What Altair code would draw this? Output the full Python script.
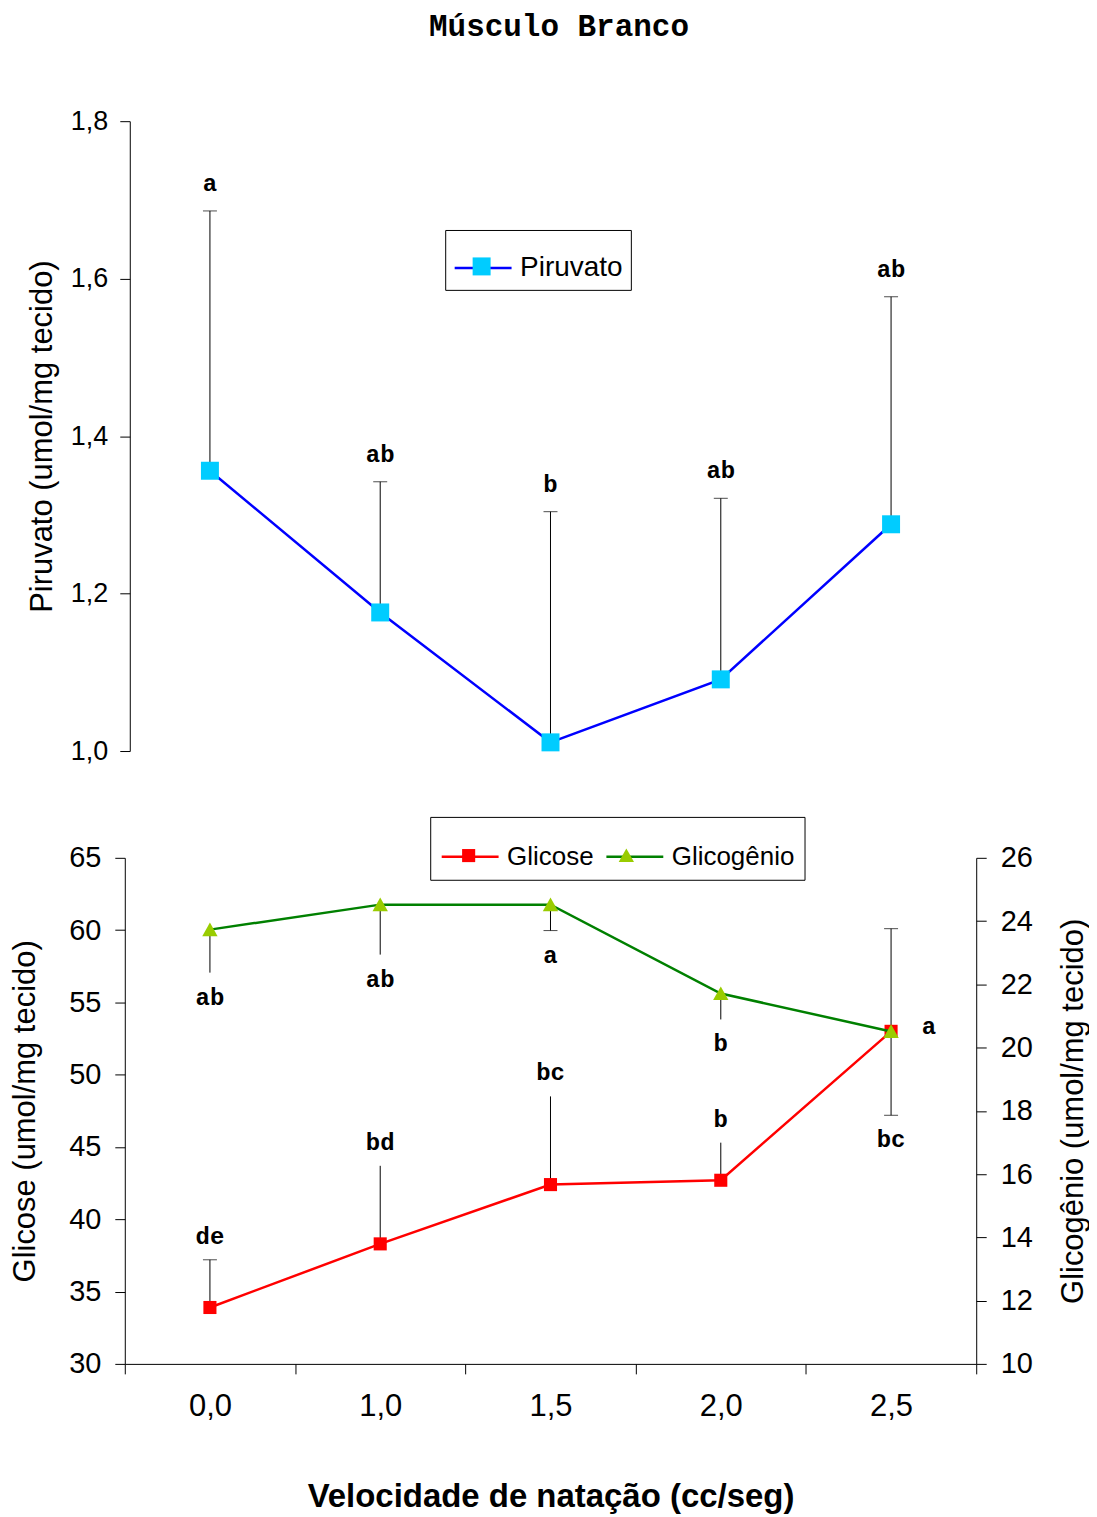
import altair as alt
import pandas as pd

# ---------------- dados ----------------
velocidades = ["0,0", "1,0", "1,5", "2,0", "2,5"]

piruvato = [1.356, 1.176, 1.011, 1.091, 1.288]
piruvato_erro = [1.686, 1.342, 1.304, 1.321, 1.577]
piruvato_letras = ["a", "ab", "b", "ab", "ab"]

glicose = [33.9, 38.3, 42.4, 42.7, 53.0]
glicose_erro = [37.2, 43.7, 48.5, 45.3, 60.1]
glicose_letras = ["de", "bd", "bc", "b", "a"]
glicose_letra_lado = ["acima", "acima", "acima", "acima", "direita"]
glicose_traco = [True, False, False, False, True]

glicogenio = [23.73, 24.52, 24.52, 21.71, 20.51]
glicogenio_erro = [22.37, 22.94, 23.70, 20.89, 17.86]
glicogenio_letras = ["ab", "ab", "a", "b", "bc"]
glicogenio_traco = [False, False, True, False, True]

ticks_piruvato = [1.0, 1.2, 1.4, 1.6, 1.8]
ticks_glicose = [30, 35, 40, 45, 50, 55, 60, 65]
ticks_glicogenio = [10, 12, 14, 16, 18, 20, 22, 24, 26]

series_base = ["Glicose", "Glicogênio"]
cor_linha = {"Piruvato": "#0000FF", "Glicose": "#FF0000", "Glicogênio": "#008000"}
cor_marcador = {"Piruvato": "#00CCFF", "Glicose": "#FF0000", "Glicogênio": "#99CC00"}
# marker shapes (unit = half of the legend line length)
forma = {
    "Piruvato": "M-0.316,-0.316H0.316V0.316H-0.316Z",
    "Glicose": "M-0.23,-0.23H0.23V0.23H-0.23Z",
    "Glicogênio": "M0,-0.25L0.27,0.23L-0.27,0.23Z",
}
TAM = 3249  # symbol size: legend line length squared

SANS = "Liberation Sans"
MONO = "Liberation Mono"


def tabela(valores, erros, letras, nome, **extra):
    d = pd.DataFrame({"vel": velocidades, "valor": valores, "erro": erros,
                      "letra": letras, **extra})
    d["serie"] = nome
    d["linha"] = nome
    return d


df_pir = tabela(piruvato, piruvato_erro, piruvato_letras, "Piruvato")
df_gli = tabela(glicose, glicose_erro, glicose_letras, "Glicose",
                lado=glicose_letra_lado, traco=glicose_traco)
df_glg = tabela(glicogenio, glicogenio_erro, glicogenio_letras, "Glicogênio",
                traco=glicogenio_traco)

escala_x = alt.Scale(type="band", paddingInner=0, paddingOuter=0)


def eixo_y(**kw):
    base = dict(grid=False, tickSize=10, labelPadding=12, labelFont=SANS,
                labelColor="black", titleFont=SANS, titleFontWeight="normal",
                titleColor="black", domainColor="black", tickColor="black")
    base.update(kw)
    return alt.Axis(**base)


def legenda(lx, ly, fonte, pad, visivel, valores=None):
    kw = dict(orient="none", legendX=lx, legendY=ly, title=None,
              direction="horizontal", symbolSize=TAM, labelFont=SANS,
              labelFontSize=fonte, labelColor="black", labelOffset=7,
              padding=pad, columnPadding=7)
    if visivel:
        kw.update(symbolType="stroke", symbolStrokeWidth=2.5, strokeColor="black")
    else:
        kw.update(labelOpacity=0, symbolStrokeWidth=0, zindex=1)
    if valores:
        kw["values"] = valores
    return alt.Legend(**kw)


texto = dict(font=MONO, fontWeight="bold", fontSize=24, color="black")

# ---------------- painel superior: Piruvato ----------------
x_topo = alt.X("vel:N", sort=velocidades, scale=escala_x, axis=None)
esc_pir = alt.Scale(domain=[1.0, 1.8], nice=False, zero=False)
eixo_pir = eixo_y(values=ticks_piruvato,
                  labelExpr="replace(format(datum.value, '.1f'), '.', ',')",
                  title="Piruvato (umol/mg tecido)", titleFontSize=31,
                  titlePadding=12, labelFontSize=27, offset=-5)


def y_pir(c):
    return alt.Y(f"{c}:Q", scale=esc_pir, axis=eixo_pir)


leg_l_topo = legenda(321, 109, 28, 8, True)
leg_p_topo = legenda(321, 109, 28, 8, False)

bt = alt.Chart(df_pir).encode(x=x_topo)
topo = alt.layer(
    bt.mark_rule(color="black", strokeWidth=1).encode(y=y_pir("valor"), y2="erro:Q"),
    bt.mark_tick(color="black", thickness=1, size=14).encode(y=y_pir("erro")),
    bt.mark_line(strokeWidth=2.5).encode(
        y=y_pir("valor"),
        stroke=alt.Stroke("linha:N", scale=alt.Scale(range=[cor_linha["Piruvato"]]),
                          legend=leg_l_topo)),
    bt.mark_point(filled=True, opacity=1, size=TAM, strokeWidth=0).encode(
        y=y_pir("valor"),
        fill=alt.Fill("serie:N", scale=alt.Scale(range=[cor_marcador["Piruvato"]]),
                      legend=leg_p_topo),
        shape=alt.Shape("serie:N", scale=alt.Scale(range=[forma["Piruvato"]]),
                        legend=leg_p_topo)),
    bt.mark_text(baseline="alphabetic", dy=-20, **texto).encode(
        y=y_pir("erro"), text="letra:N"),
).properties(width=853, height=631)

# ---------------- painel inferior: Glicose e Glicogênio ----------------
x_base = alt.X("vel:N", sort=velocidades, scale=escala_x,
               axis=alt.Axis(title="Velocidade de natação (cc/seg)", titleFont=SANS,
                             titleFontSize=33, titleFontWeight="bold",
                             titleColor="black", titlePadding=59, labelAngle=0,
                             labelFont=SANS, labelFontSize=31, labelColor="black",
                             labelPadding=18, tickSize=10, tickBand="extent",
                             domainColor="black", tickColor="black", grid=False))

esc_gli = alt.Scale(domain=[30, 65], nice=False, zero=False)
eixo_gli = eixo_y(orient="left", values=ticks_glicose,
                  title="Glicose (umol/mg tecido)", titleFontSize=31,
                  titlePadding=27, labelFontSize=29, labelPadding=14)
esc_glg = alt.Scale(domain=[10, 26], nice=False, zero=False)
eixo_glg = eixo_y(orient="right", values=ticks_glicogenio,
                  title="Glicogênio (umol/mg tecido)", titleFontSize=31,
                  titlePadding=26, titleAngle=270, titleBaseline="top",
                  labelFontSize=29, labelPadding=14)

ordem_alfa = sorted(series_base)
leg_l_base = legenda(306, -41, 26, 10, True, series_base)
leg_p_base = legenda(306, -41, 26, 10, False, series_base)
stroke_enc = alt.Stroke("linha:N",
                        scale=alt.Scale(domain=series_base,
                                        range=[cor_linha[s] for s in series_base]),
                        legend=leg_l_base)
fill_enc = alt.Fill("serie:N",
                    scale=alt.Scale(range=[cor_marcador[s] for s in ordem_alfa]),
                    legend=leg_p_base)
shape_enc = alt.Shape("serie:N",
                      scale=alt.Scale(range=[forma[s] for s in ordem_alfa]),
                      legend=leg_p_base)


def y_gli(c):
    return alt.Y(f"{c}:Q", scale=esc_gli, axis=eixo_gli)


def y_glg(c):
    return alt.Y(f"{c}:Q", scale=esc_glg, axis=eixo_glg)


bg = alt.Chart(df_gli).encode(x=x_base)
camada_gli = alt.layer(
    bg.mark_rule(color="black", strokeWidth=1).encode(y=y_gli("valor"), y2="erro:Q"),
    bg.transform_filter("datum.traco").mark_tick(color="black", thickness=1, size=14)
      .encode(y=y_gli("erro")),
    bg.mark_line(strokeWidth=2.5).encode(y=y_gli("valor"), stroke=stroke_enc),
    bg.mark_point(filled=True, opacity=1, size=TAM, strokeWidth=0).encode(
        y=y_gli("valor"), fill=fill_enc, shape=shape_enc),
    bg.transform_filter("datum.lado == 'acima'")
      .mark_text(baseline="alphabetic", dy=-16, **texto)
      .encode(y=y_gli("erro"), text="letra:N"),
    bg.transform_filter("datum.lado == 'direita'")
      .mark_text(baseline="alphabetic", dx=38, dy=3, **texto)
      .encode(y=y_gli("valor"), text="letra:N"),
)

bo = alt.Chart(df_glg).encode(x=x_base)
camada_glg = alt.layer(
    bo.mark_rule(color="black", strokeWidth=1).encode(y=y_glg("valor"), y2="erro:Q"),
    bo.transform_filter("datum.traco").mark_tick(color="black", thickness=1, size=14)
      .encode(y=y_glg("erro")),
    bo.mark_line(strokeWidth=2.5).encode(y=y_glg("valor"), stroke=stroke_enc),
    bo.mark_point(filled=True, opacity=1, size=TAM, strokeWidth=0).encode(
        y=y_glg("valor"), fill=fill_enc, shape=shape_enc),
    bo.mark_text(baseline="alphabetic", dy=32, **texto)
      .encode(y=y_glg("erro"), text="letra:N"),
)

base = alt.layer(camada_gli, camada_glg).resolve_scale(y="independent").properties(
    width=853, height=507)

grafico = alt.vconcat(topo, base, spacing=107, bounds="flush").resolve_scale(
    x="independent", y="independent", stroke="independent",
    fill="independent", shape="independent").resolve_legend(
    stroke="independent", fill="independent", shape="independent").properties(
    title=alt.TitleParams("Músculo Branco", font=MONO, fontSize=31,
                          fontWeight="bold", color="black", anchor="middle",
                          offset=64, dx=10),
    padding={"left": 1, "top": 2, "right": 0, "bottom": 0},
).configure_view(stroke=None)

grafico.save("out.html", embed_options={"renderer": "svg", "actions": False})
